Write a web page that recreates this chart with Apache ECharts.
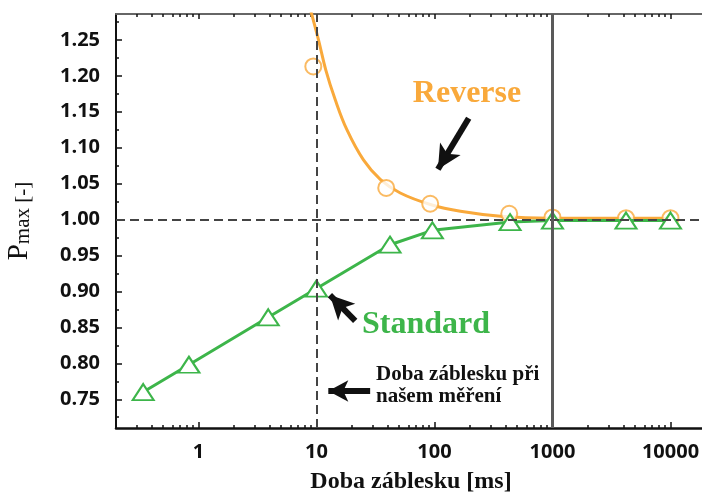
<!DOCTYPE html>
<html><head><meta charset="utf-8">
<script src="https://cdn.jsdelivr.net/npm/echarts@6/dist/echarts.min.js"></script>
<style>html,body{margin:0;padding:0;background:#fff}#c{width:702px;height:495px}</style>
</head><body><div id="c"></div>
<script>
// ---- data ----
const xTickLabels = [1, 10, 100, 1000, 10000];
const xMinorTicks = [0.3,0.4,0.5,0.6,0.7,0.8,0.9, 2,3,4,5,6,7,8,9, 20,30,40,50,60,70,80,90,
  200,300,400,500,600,700,800,900, 2000,3000,4000,5000,6000,7000,8000,9000];
const yTickLabels = [0.75,0.80,0.85,0.90,0.95,1.00,1.05,1.10,1.15,1.20,1.25];
const yMinorTicks = [0.725,0.775,0.825,0.875,0.925,0.975,1.025,1.075,1.125,1.175,1.225,1.275];

const standardX = [0.34, 0.83, 3.9, 10, 42, 96, 437, 1000, 4200, 10000];
const standardY = [0.760, 0.798, 0.864, 0.904, 0.965, 0.985, 0.9965, 0.9986, 0.9986, 0.9986];

const reverseX = [9.4, 39, 92, 430, 1000, 4200, 10000];
const reverseY = [1.213, 1.044, 1.022, 1.008, 1.003, 1.002, 1.002];

const reverseFitX = [8.6, 9.1, 10.4, 12.0, 14.4, 18.1, 25.0, 34.7, 51.3, 92.3, 166, 363, 968, 10000];
const reverseFitY = [1.30, 1.286, 1.25, 1.208, 1.167, 1.125, 1.083, 1.056, 1.037, 1.021, 1.0115, 1.0046, 1.002, 1.002];

// ---- chart ----
const orange = '#F9A93B', green = '#3DB54A', ink = '#111';
const xMin = 0.2, xMax = 20000, yMin = 0.71, yMax = 1.286;
const zip = (a, b) => a.map((v, i) => [v, b[i]]);
const gridBox = {left: 116, top: 14, right: -4, bottom: 67, outerBoundsMode: 'none'};
const tickFont = {fontFamily: 'Open Sans', fontWeight: 700, fontSize: 20, color: ink};
const serif = 'Liberation Serif';

function arrow(from, to, size, w) {
  return [
    {coord: from, symbol: 'none', lineStyle: {color: ink, width: w, type: 'solid'}},
    {coord: to, symbol: 'arrow', symbolSize: size, lineStyle: {color: ink, width: w, type: 'solid'}}
  ];
}

const option = {
  animation: false,
  backgroundColor: '#fff',
  grid: [Object.assign({}, gridBox), Object.assign({}, gridBox)],
  xAxis: [
    {type: 'log', logBase: 10, min: xMin, max: xMax, gridIndex: 0, position: 'bottom',
     axisLine: {show: true, lineStyle: {color: ink, width: 2.5}},
     axisTick: {show: true, inside: true, length: 6, customValues: xTickLabels, lineStyle: {color: ink, width: 1.5}},
     axisLabel: Object.assign({show: true, margin: 14, customValues: xTickLabels, formatter: v => String(v)}, tickFont),
     splitLine: {show: false}, minorTick: {show: false},
     name: 'Doba záblesku [ms]', nameLocation: 'middle', nameGap: 42,
     nameTextStyle: {fontFamily: serif, fontWeight: 'bold', fontSize: 24, color: ink}},
    {type: 'log', logBase: 10, min: xMin, max: xMax, gridIndex: 0, position: 'top',
     axisLine: {show: true, lineStyle: {color: '#666', width: 2}},
     axisTick: {show: true, inside: true, length: 5, customValues: xTickLabels, lineStyle: {color: ink, width: 1.5}},
     axisLabel: {show: false}, splitLine: {show: false}},
    {type: 'log', logBase: 10, min: xMin, max: xMax, gridIndex: 1, position: 'bottom',
     axisLine: {show: false},
     axisTick: {show: true, inside: true, length: 3, customValues: xMinorTicks, lineStyle: {color: ink, width: 1.5}},
     axisLabel: {show: false}, splitLine: {show: false}},
    {type: 'log', logBase: 10, min: xMin, max: xMax, gridIndex: 1, position: 'top',
     axisLine: {show: false},
     axisTick: {show: true, inside: true, length: 3, customValues: xMinorTicks, lineStyle: {color: ink, width: 1.5}},
     axisLabel: {show: false}, splitLine: {show: false}}
  ],
  yAxis: [
    {type: 'value', min: yMin, max: yMax, gridIndex: 0, position: 'left',
     axisLine: {show: true, lineStyle: {color: ink, width: 2}},
     axisTick: {show: true, inside: true, length: 6, customValues: yTickLabels, lineStyle: {color: ink, width: 1.5}},
     axisLabel: Object.assign({show: true, margin: 16, customValues: yTickLabels, formatter: v => v.toFixed(2)}, tickFont),
     splitLine: {show: false},
     name: '{p|P}{m|max [-]}', nameLocation: 'middle', nameGap: 82,
     nameTextStyle: {color: ink, rich: {
       p: {fontFamily: serif, fontSize: 29, color: ink, verticalAlign: 'bottom', lineHeight: 30},
       m: {fontFamily: serif, fontSize: 21, color: ink, verticalAlign: 'bottom', lineHeight: 27}}}},
    {type: 'value', min: yMin, max: yMax, gridIndex: 1, position: 'left',
     axisLine: {show: false},
     axisTick: {show: true, inside: true, length: 3, customValues: yMinorTicks, lineStyle: {color: ink, width: 1.5}},
     axisLabel: {show: false}, splitLine: {show: false}}
  ],
  series: [
    {type: 'line', name: 'Reverse fit', xAxisIndex: 0, yAxisIndex: 0, data: zip(reverseFitX, reverseFitY),
     smooth: 0.4, showSymbol: false, symbol: 'none', lineStyle: {color: orange, width: 3}, z: 2,
     markLine: {silent: true, symbol: ['none', 'none'], label: {show: false}, animation: false,
       data: [
         {yAxis: 1.0, lineStyle: {color: '#444', width: 2, type: [9, 5]}},
         {xAxis: 10, lineStyle: {color: '#444', width: 2, type: [9, 5]}},
         {xAxis: 1000, lineStyle: {color: '#5a5a5a', width: 3, type: 'solid'}},
         arrow([195, 1.141], [107, 1.07], [18, 24], 6),
         arrow([21.3, 0.859], [13.0, 0.895], [18, 24], 6),
         arrow([28.5, 0.7615], [12.6, 0.7615], [16, 20], 6)
       ]}},
    {type: 'scatter', name: 'Reverse', xAxisIndex: 0, yAxisIndex: 0, data: zip(reverseX, reverseY),
     symbol: 'circle', symbolSize: 16, itemStyle: {color: '#fff', borderColor: orange, borderWidth: 2}, z: 3},
    {type: 'line', name: 'Standard', xAxisIndex: 0, yAxisIndex: 0, data: zip(standardX, standardY),
     symbol: 'triangle', symbolSize: [21, 16], showSymbol: true,
     itemStyle: {color: '#fff', borderColor: green, borderWidth: 2},
     lineStyle: {color: green, width: 3}, z: 4}
  ],
  graphic: [
    {type: 'text', x: 467, y: 94, style: {text: 'Reverse', fill: orange, fontFamily: serif, fontWeight: 'bold', fontSize: 32, align: 'center', verticalAlign: 'middle'}},
    {type: 'text', x: 426, y: 325, style: {text: 'Standard', fill: green, fontFamily: serif, fontWeight: 'bold', fontSize: 32, align: 'center', verticalAlign: 'middle'}},
    {type: 'text', x: 376, y: 375, style: {text: 'Doba záblesku při', fill: ink, fontFamily: serif, fontWeight: 'bold', fontSize: 21, align: 'left', verticalAlign: 'middle'}},
    {type: 'text', x: 376, y: 397, style: {text: 'našem měření', fill: ink, fontFamily: serif, fontWeight: 'bold', fontSize: 21, align: 'left', verticalAlign: 'middle'}}
  ]
};
const chart = echarts.init(document.getElementById('c'), null, {renderer: 'canvas'});
chart.setOption(option);
</script>
</body></html>
